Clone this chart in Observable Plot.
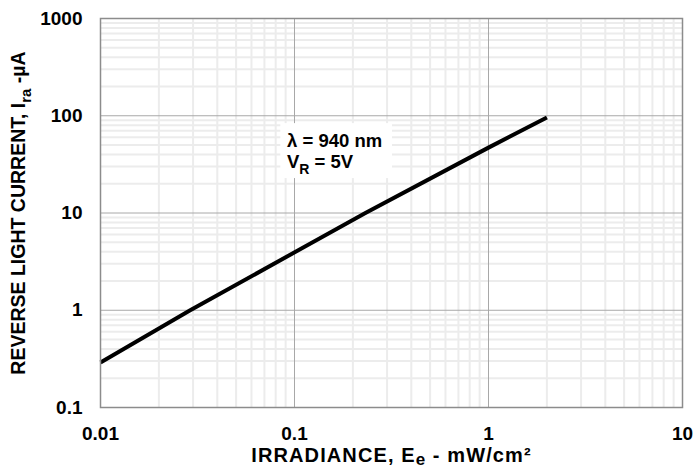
<!DOCTYPE html>
<html><head><meta charset="utf-8">
<script src="https://cdn.jsdelivr.net/npm/d3@7"></script>
<script src="https://cdn.jsdelivr.net/npm/@observablehq/plot@0.6"></script>
<style>html,body{margin:0;padding:0;background:#fff;}</style>
</head><body><div id="chart"></div>
<script>
// ---- data ----
const irradiance = [0.01, 0.029, 0.232, 1, 2];     // mW/cm²
const current    = [0.29, 1, 10, 47, 96];          // µA
const xTicks = [0.01, 0.1, 1, 10];
const xTickLabels = ["0.01", "0.1", "1", "10"];
const yTicks = [0.1, 1, 10, 100, 1000];
const yTickLabels = ["0.1", "1", "10", "100", "1000"];
const xMajorGrid = [0.1, 1];
const yMajorGrid = [1, 10, 100];
const xDecades = [0.01, 0.1, 1];
const yDecades = [0.1, 1, 10, 100];
const minorSteps = [2, 3, 4, 5, 6, 7, 8, 9];
const annotationText = ["λ = 940 nm", "V_{R} = 5V"];
const annotationX = [0.0915, 0.0915];
const annotationY = [54.5, 33.1];
const annotationBox = {x1: 0.085, x2: 0.32, y1: 22.6, y2: 83};
const xTitle = "IRRADIANCE, E_{e} - mW/cm²";
const yTitle = "REVERSE LIGHT CURRENT, I_{ra} -µA";

const curve = irradiance.map((x, i) => ({x, y: current[i]}));
const xMinor = xDecades.flatMap(d => minorSteps.map(k => k * d));
const yMinor = yDecades.flatMap(d => minorSteps.map(k => k * d));
const annotations = annotationText.map((t, i) => ({t, x: annotationX[i], y: annotationY[i]}));

const font = "'Liberation Sans', Arial, Helvetica, sans-serif";

const chart = Plot.plot({
  width: 696,
  height: 472,
  marginLeft: 100,
  marginRight: 14,
  marginTop: 18,
  marginBottom: 65,
  x: {type: "log", domain: [0.01, 10]},
  y: {type: "log", domain: [0.1, 1000]},
  style: {fontFamily: font, fontWeight: "bold", fontSize: "19px", color: "#000", background: "#fff", overflow: "visible"},
  marks: [
    Plot.ruleX(xMinor, {stroke: "#ececec", strokeWidth: 2}),
    Plot.ruleY(yMinor, {stroke: "#ececec", strokeWidth: 2}),
    Plot.ruleX(xMajorGrid, {stroke: "#a8a8a8", strokeWidth: 1}),
    Plot.ruleY(yMajorGrid, {stroke: "#a8a8a8", strokeWidth: 1}),
    Plot.rect([annotationBox], {x1: "x1", x2: "x2", y1: "y1", y2: "y2", fill: "#fff"}),
    Plot.line(curve, {x: "x", y: "y", stroke: "#000", strokeWidth: 4, strokeLinecap: "butt"}),
    Plot.text(annotations, {x: "x", y: "y", text: "t", textAnchor: "start", fontSize: 18.5, fontWeight: "bold", fill: "#000"}),
    Plot.frame({stroke: "#8c8c8c", strokeWidth: 1.5}),
    Plot.axisX(xTicks, {
      tickSize: 0, tickPadding: 19,
      tickFormat: d => xTickLabels[xTicks.indexOf(d)],
      label: xTitle, labelAnchor: "center", labelArrow: "none", labelOffset: 54
    }),
    Plot.axisY(yTicks, {
      tickSize: 0, tickPadding: 18,
      tickFormat: d => yTickLabels[yTicks.indexOf(d)],
      label: yTitle, labelAnchor: "center", labelArrow: "none", labelOffset: 89
    })
  ]
});

// axis titles styling
chart.querySelectorAll('g[aria-label="x-axis label"] text').forEach(t => {
  t.setAttribute("font-size", "20");
  t.setAttribute("letter-spacing", "1.1");
  t.dataset.sub = "0.85,0.15";
});
chart.querySelectorAll('g[aria-label="y-axis label"] text').forEach(t => {
  t.setAttribute("font-size", "19.5");
});

// turn _{..} markers into real subscript tspans
function richify(svg) {
  svg.querySelectorAll("text").forEach(t => {
    const s = t.textContent;
    if (!s.includes("_{")) return;
    const fs = parseFloat(t.getAttribute("font-size")) || 19;
    const [subSize, subShift] = (t.dataset.sub || "0.75,0.3").split(",").map(Number);
    const shift = Math.round(fs * subShift);
    const parts = s.split(/(_\{[^}]*\})/).filter(p => p.length);
    while (t.firstChild) t.removeChild(t.firstChild);
    let shifted = false;
    for (const p of parts) {
      const ts = document.createElementNS("http://www.w3.org/2000/svg", "tspan");
      if (p.startsWith("_{")) {
        ts.textContent = p.slice(2, -1);
        ts.setAttribute("dy", shift);
        ts.setAttribute("font-size", Math.round(fs * subSize));
        shifted = true;
      } else {
        ts.textContent = p;
        if (shifted) { ts.setAttribute("dy", -shift); shifted = false; }
      }
      t.appendChild(ts);
    }
  });
}
richify(chart);
document.getElementById("chart").appendChild(chart);
</script>
</body></html>
